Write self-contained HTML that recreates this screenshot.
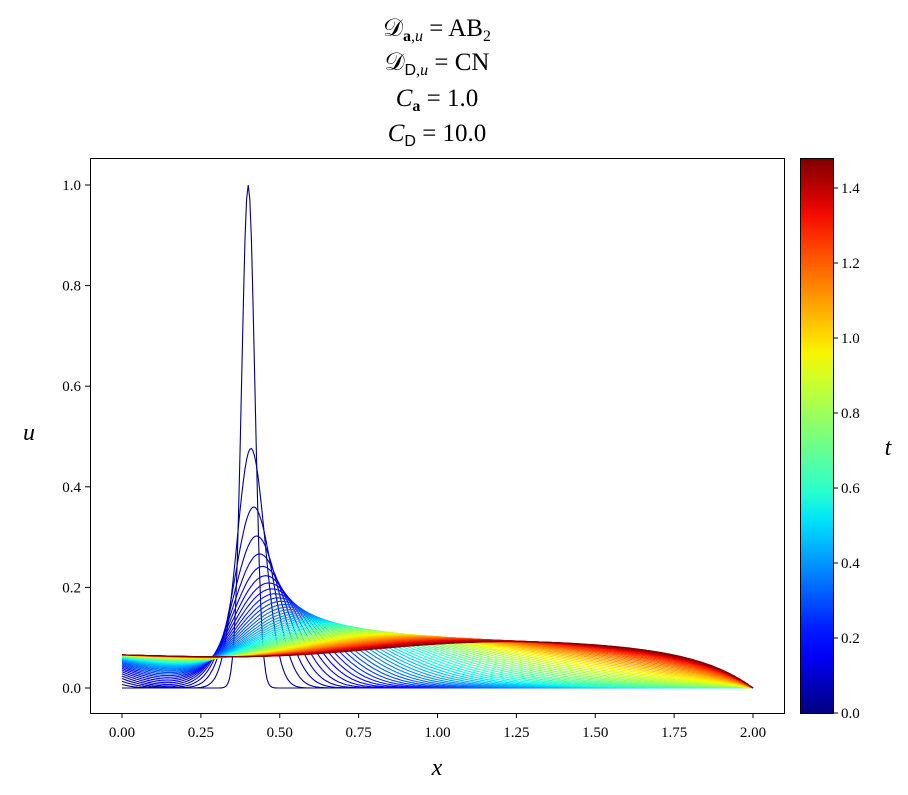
<!DOCTYPE html>
<html><head><meta charset="utf-8">
<style>
body{margin:0;background:#fff;width:908px;height:795px;overflow:hidden;font-family:"Liberation Serif",serif;}
.t{position:absolute;left:0;width:874px;text-align:center;font-size:25px;line-height:25px;}
i{font-style:italic}
.sf{font-family:"Liberation Sans",sans-serif;font-style:normal}
sub{font-size:16px;vertical-align:-5px;line-height:0}
</style></head><body>
<div class="t" style="top:16px">𝒟<sub><b>a</b>,<i>u</i></sub> = AB<sub>2</sub></div>
<div class="t" style="top:50px">𝒟<sub><span class="sf">D</span>,<i>u</i></sub> = CN</div>
<div class="t" style="top:86px"><i>C</i><sub><b>a</b></sub> = 1.0</div>
<div class="t" style="top:121px"><i>C</i><sub><span class="sf">D</span></sub> = 10.0</div>
<svg id="s" width="908" height="795" style="position:absolute;left:0;top:0" xmlns="http://www.w3.org/2000/svg" font-family="Liberation Serif, serif"></svg>
<script>
function jet(v){
 function seg(p,pts){for(let i=0;i<pts.length-1;i++){const a=pts[i],b=pts[i+1];if(p<=b[0]){return a[1]+(b[1]-a[1])*(p-a[0])/(b[0]-a[0]);}}return pts[pts.length-1][1];}
 const r=seg(v,[[0,0],[0.35,0],[0.66,1],[0.89,1],[1,0.5]]);
 const g=seg(v,[[0,0],[0.125,0],[0.375,1],[0.64,1],[0.91,0],[1,0]]);
 const b=seg(v,[[0,0.5],[0.11,1],[0.34,1],[0.65,0],[1,0]]);
 return `rgb(${Math.round(r*255)},${Math.round(g*255)},${Math.round(b*255)})`;
}
const s=document.getElementById('s');let h='';
const X=x=>122+x*315.5, Y=u=>688-u*503;
const N=400,dx=2/N,al=0.88,lam=0.05,T=1.48,NC=60;
const Df=x=>x<0.4?0.03+0.3*(x-0.4)*(x-0.4):0.03+0.095*(x-0.4)*(x-0.4);
let Dmax=0;for(let i=0;i<=N;i++)Dmax=Math.max(Dmax,Df(i*dx));
const dt=0.4*dx*dx/Dmax;
const Dh=new Float64Array(N+1);for(let i=0;i<N;i++)Dh[i]=Df((i+0.5)*dx);
let u=new Float64Array(N+1),un=new Float64Array(N+1);
for(let i=0;i<=N;i++){const x=i*dx;u[i]=Math.exp(-Math.pow((x-0.4)/0.021,2)/2);}
u[N]=0;u[0]=0;
const curves=[[0,Array.from(u)]];
let t=0,next=T/NC;
while(t<T-1e-9){
 for(let i=1;i<N;i++){const x=i*dx;un[i]=u[i]+dt*((Dh[i]*(u[i+1]-u[i])-Dh[i-1]*(u[i]-u[i-1]))/(dx*dx)-al*x*(u[i]-u[i-1])/dx-lam*u[i]);}
 t+=dt;un[0]=0.066*(1-Math.exp(-t/0.22));un[N]=0;const tmp=u;u=un;un=tmp;
 if(t>=next-1e-9){curves.push([t,Array.from(u)]);next+=T/NC;}
}
h+='<defs><clipPath id="c"><rect x="90" y="158" width="694" height="555"/></clipPath></defs><g clip-path="url(#c)">';
for(const [tt,a] of curves){let p='';for(let i=0;i<=N;i++)p+=X(i*dx).toFixed(1)+','+Y(a[i]).toFixed(1)+' ';
 h+=`<polyline points="${p}" fill="none" stroke="${jet(Math.min(tt/T,1))}" stroke-width="1.1"/>`;}
h+='</g><rect x="90.5" y="158.5" width="694" height="555" fill="none" stroke="#000" stroke-width="1"/>';
for(let k=0;k<=8;k++){const x=X(k*0.25);h+=`<line x1="${x}" y1="713" x2="${x}" y2="718" stroke="#000"/><text x="${x}" y="737" font-size="15" text-anchor="middle">${(k*0.25).toFixed(2)}</text>`;}
for(let k=0;k<=5;k++){const y=Y(k*0.2);h+=`<line x1="85" y1="${y}" x2="90" y2="${y}" stroke="#000"/><text x="81" y="${y+5}" font-size="15" text-anchor="end">${(k*0.2).toFixed(1)}</text>`;}
h+='<text x="437" y="775" font-size="24" font-style="italic" text-anchor="middle">x</text>';
h+='<text x="29" y="440" font-size="24" font-style="italic" text-anchor="middle">u</text>';
let st='';for(let k=0;k<=20;k++){st+=`<stop offset="${k/20}" stop-color="${jet(k/20)}"/>`;}
h+=`<defs><linearGradient id="g" x1="0" y1="1" x2="0" y2="0">${st}</linearGradient></defs><rect x="800.5" y="158.5" width="33" height="555" fill="url(#g)" stroke="#000"/>`;
for(let k=0;k<=7;k++){const v=k*0.2,y=713-v/1.48*555;h+=`<line x1="833" y1="${y}" x2="838" y2="${y}" stroke="#000"/><text x="841" y="${y+5}" font-size="15">${v.toFixed(1)}</text>`;}
h+='<text x="888" y="455" font-size="24" font-style="italic" text-anchor="middle">t</text>';
s.innerHTML=h;
</script>
</body></html>
